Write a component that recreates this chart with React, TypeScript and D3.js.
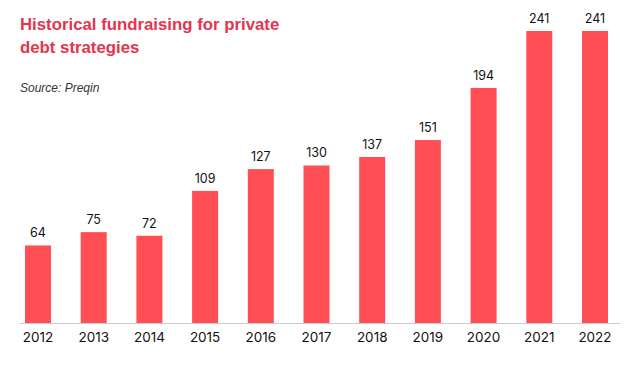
import React from "react";
import * as d3 from "d3";

const years = ["2012", "2013", "2014", "2015", "2016", "2017", "2018", "2019", "2020", "2021", "2022"];
const values = [64, 75, 72, 109, 127, 130, 137, 151, 194, 241, 241];

const width = 638;
const height = 373;
const barColor = "#ff4f55";
const titleColor = "#e5344d";
const font = "'Liberation Sans', Arial, sans-serif";
const labelFont = "Inter, 'Liberation Sans', sans-serif";

const App: React.FC = () => {
  const x = d3.scaleBand<string>().domain(years).range([25, 608]).paddingInner(0.533).paddingOuter(0);
  const y = d3.scaleLinear().domain([0, 241]).range([323, 31]);

  return (
    <>
      <style>{`body{margin:0}`}</style>
      <svg width={width} height={height} style={{ display: "block", fontFamily: font }}>
        <rect width={width} height={height} fill="#fff" />
        <text x={20} y={30} fill={titleColor} fontSize={16.8} fontWeight="bold">
          Historical fundraising for private
        </text>
        <text x={20} y={53} fill={titleColor} fontSize={16.8} fontWeight="bold">
          debt strategies
        </text>
        <text x={20} y={92} fill="#333" fontSize={12} fontStyle="italic">
          Source: Preqin
        </text>

        {years.map((yr, i) => (
          <g key={yr}>
            <rect
              x={x(yr)}
              y={y(values[i])}
              width={x.bandwidth()}
              height={y(0) - y(values[i])}
              fill={barColor}
            />
            <text
              x={(x(yr) ?? 0) + x.bandwidth() / 2}
              y={y(values[i]) - 8}
              textAnchor="middle"
              fontSize={12.5}
              fontFamily={labelFont}
              fill="#111"
            >
              {values[i]}
            </text>
            <text
              x={(x(yr) ?? 0) + x.bandwidth() / 2}
              y={342}
              textAnchor="middle"
              fontSize={13.5}
              fontFamily={labelFont}
              fill="#111"
            >
              {yr}
            </text>
          </g>
        ))}
        <line x1={20} x2={620} y1={y(0) + 0.5} y2={y(0) + 0.5} stroke="#ccc" strokeWidth={1} />
      </svg>
    </>
  );
};

export default App;
